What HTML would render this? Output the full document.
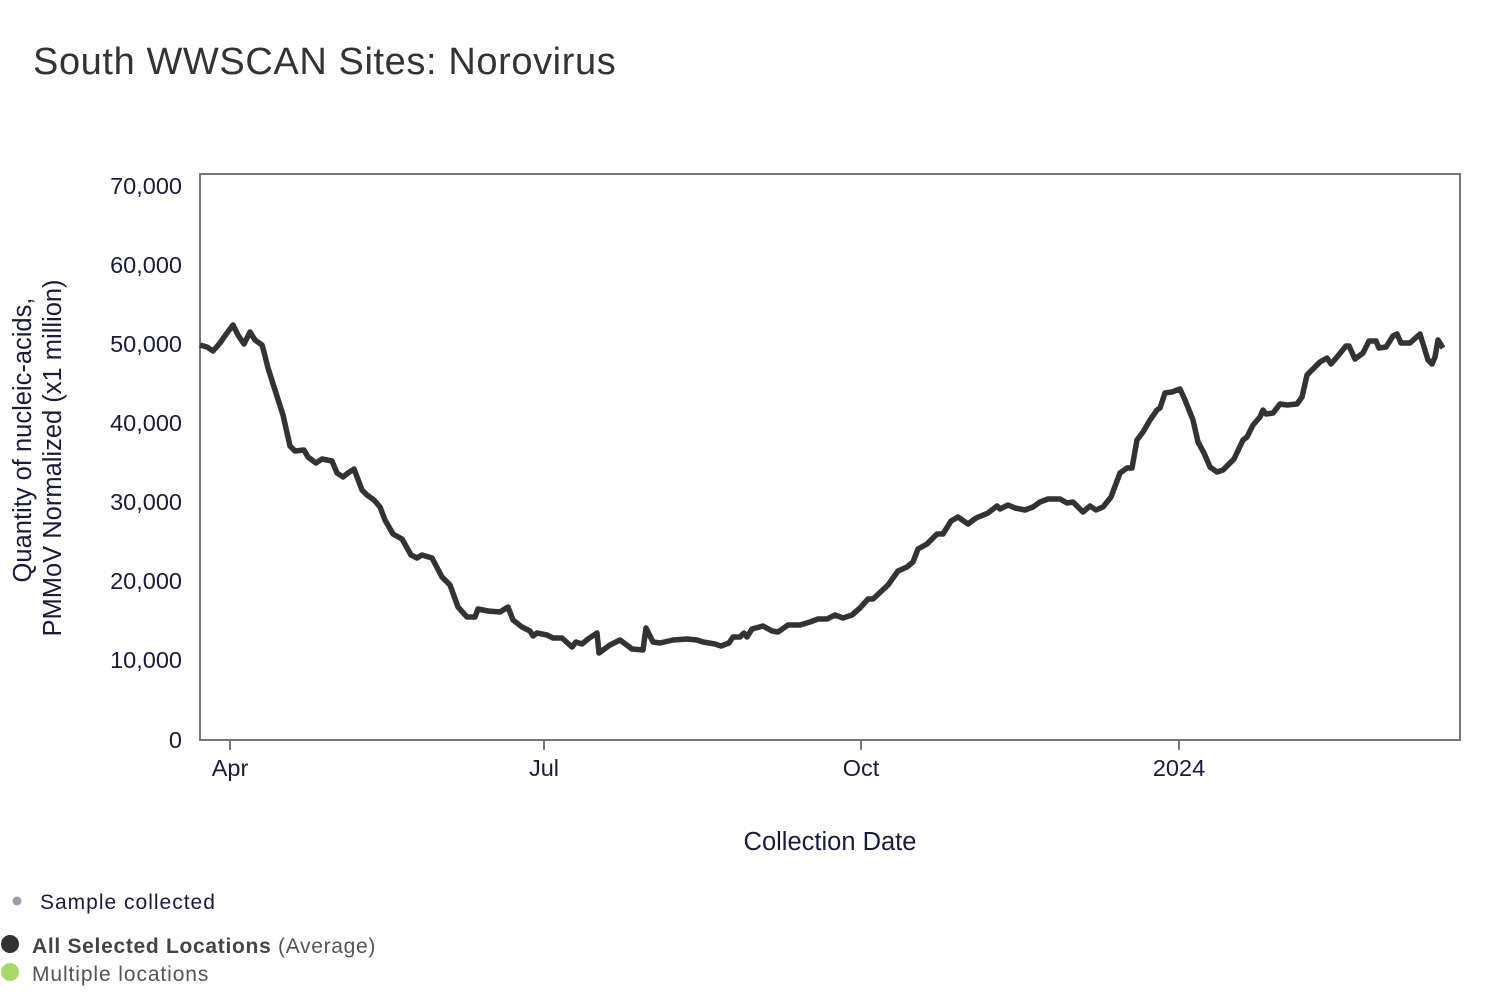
<!DOCTYPE html>
<html><head><meta charset="utf-8"><style>
body{margin:0;background:#fff;width:1500px;height:1002px;overflow:hidden;font-family:"Liberation Sans",sans-serif}
</style></head><body>
<svg width="1500" height="1002" xmlns="http://www.w3.org/2000/svg" font-family="Liberation Sans, sans-serif">
<text x="33" y="74" font-size="38" letter-spacing="0.6" fill="#333">South WWSCAN Sites: Norovirus</text>
<rect x="200" y="174" width="1260" height="566" fill="none" stroke="#777" stroke-width="2"/>
<g font-size="23.5" fill="#1a1a3a" text-anchor="end">
<text x="182" y="194">70,000</text><text x="182" y="273">60,000</text><text x="182" y="352">50,000</text>
<text x="182" y="431">40,000</text><text x="182" y="510">30,000</text><text x="182" y="589">20,000</text>
<text x="182" y="668">10,000</text><text x="182" y="748">0</text>
</g>
<g stroke="#777" stroke-width="2"><line x1="230" y1="740" x2="230" y2="750"/><line x1="544" y1="740" x2="544" y2="750"/><line x1="861" y1="740" x2="861" y2="750"/><line x1="1179" y1="740" x2="1179" y2="750"/></g>
<g font-size="23.5" fill="#1a1a3a" text-anchor="middle">
<text x="230" y="776">Apr</text><text x="544" y="776">Jul</text><text x="861" y="776">Oct</text><text x="1179" y="776">2024</text>
<text x="830" y="850" font-size="25.5">Collection Date</text>
</g>
<g font-size="25.5" fill="#1a1a3a" text-anchor="middle">
<text transform="translate(31,440) rotate(-90)">Quantity of nucleic-acids,</text>
<text transform="translate(61,458) rotate(-90)">PMMoV Normalized (x1 million)</text>
</g>
<polyline fill="none" stroke="#333" stroke-width="5.5" stroke-linejoin="round" points="200,345 207,347 213,351 220,343 227,333 233,325 238,335 244,344 250,332 255,340 262,345 264,352 268,368 275,390 283,415 290,446 295,451 304,450 308,457 316,463 322,459 332,461 337,473 343,477 348,473 354,469 362,490 367,495 374,500 380,507 385,520 393,534 402,539 411,555 417,558 422,555 432,558 442,577 450,585 458,607 467,617 475,617 478,609 488,611 500,612 508,607 513,620 522,627 530,631 533,636 537,633 547,635 553,638 562,638 572,647 576,642 582,644 588,639 597,633 599,653 603,650 610,645 620,640 632,649 643,650 646,628 653,642 660,643 673,640 687,639 697,640 703,642 715,644 721,646 729,643 733,637 740,637 744,633 747,637 752,629 763,626 772,631 778,632 788,625 800,625 810,622 818,619 827,619 835,615 843,618 852,615 860,608 868,599 873,599 888,585 898,571 907,567 913,562 918,549 927,544 937,534 943,534 951,521 958,517 968,524 976,518 988,513 997,506 1000,509 1008,505 1015,508 1025,510 1033,507 1040,502 1048,499 1060,499 1067,503 1073,502 1083,512 1090,506 1096,510 1103,507 1111,497 1120,473 1127,468 1132,468 1137,440 1143,432 1150,420 1157,410 1160,408 1165,393 1172,392 1180,389 1185,400 1193,420 1198,442 1204,453 1210,467 1217,472 1223,470 1234,459 1243,440 1247,437 1253,425 1260,417 1263,410 1266,414 1273,413 1280,404 1287,405 1297,404 1302,397 1307,375 1313,369 1320,362 1327,358 1331,364 1337,357 1346,346 1349,346 1355,359 1363,353 1369,341 1376,341 1379,348 1386,347 1393,336 1397,334 1401,343 1410,343 1420,334 1428,360 1432,364 1435,357 1438,340 1443,348"/>
<circle cx="17" cy="901" r="4.5" fill="#9aa0aa"/>
<text x="40" y="909" font-size="21" letter-spacing="1" fill="#1a1a3a">Sample collected</text>
<circle cx="10" cy="944" r="9" fill="#333"/>
<text x="32" y="953" font-size="21" letter-spacing="0.7" fill="#555"><tspan font-weight="bold" fill="#444">All Selected Locations</tspan> (Average)</text>
<circle cx="10" cy="972" r="9" fill="#a8d86a"/>
<text x="32" y="981" font-size="21" letter-spacing="0.9" fill="#555">Multiple locations</text>
</svg>
</body></html>
